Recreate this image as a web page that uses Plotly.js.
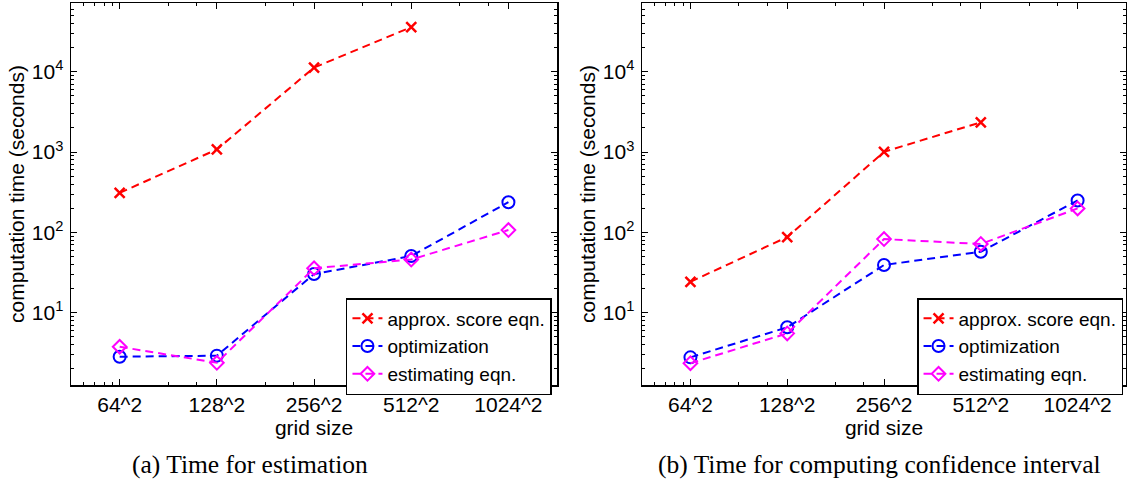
<!DOCTYPE html>
<html>
<head>
<meta charset="utf-8">
<script src="https://cdn.plot.ly/plotly-3.0.1.min.js"></script>
<style>
  html, body { margin: 0; padding: 0; background: #ffffff; }
  #chart { width: 1127px; height: 484px; }
</style>
</head>
<body>
<div id="chart"></div>
<script>
// ---------- data ----------
const gridPoints = [4096, 16384, 65536, 262144, 1048576];      // 64^2 ... 1024^2
const gridLabels = ['64^2', '128^2', '256^2', '512^2', '1024^2'];

// (a) Time for estimation
const estScore = [311, 1080, 11300, 36000];
const estOpt   = [2.83, 2.92, 30.3, 50.8, 238];
const estEq    = [3.77, 2.38, 35.8, 46.0, 107];

// (b) Time for computing confidence interval
const ciScore = [24.3, 87.5, 1010, 2350];
const ciOpt   = [2.78, 6.58, 39.3, 57.5, 250];
const ciEq    = [2.35, 5.53, 82.6, 71.8, 199];

const seriesNames = ['approx. score eqn.', 'optimization', 'estimating eqn.'];
const yTickVals = [10, 100, 1000, 10000];
const yTickText = ['10<sup>1</sup>', '10<sup>2</sup>', '10<sup>3</sup>', '10<sup>4</sup>'];
const captions = ['(a) Time for estimation', '(b) Time for computing confidence interval'];

// ---------- styling ----------
const FONT = 'Liberation Sans, Arial, Helvetica, sans-serif';
const FS = 21;
const styles = [
  {color: '#ff0000', symbol: 'x-thin-open', size: 10, mw: 2.5},
  {color: '#0000ff', symbol: 'circle-open', size: 12, mw: 2},
  {color: '#ff00ff', symbol: 'diamond-open', size: 10.5, mw: 2}
];

function mk(x, y, i, xa, ya, leg) {
  const s = styles[i];
  return {
    x: x, y: y, type: 'scatter', mode: 'lines+markers',
    name: seriesNames[i], xaxis: xa, yaxis: ya, legend: leg,
    line: {color: s.color, width: 2, dash: '8px,5px'},
    marker: {symbol: s.symbol, size: s.size, color: s.color, line: {color: s.color, width: s.mw}},
    cliponaxis: false
  };
}

const traces = [
  mk(gridPoints.slice(0, estScore.length), estScore, 0, 'x', 'y', 'legend'),
  mk(gridPoints, estOpt, 1, 'x', 'y', 'legend'),
  mk(gridPoints, estEq, 2, 'x', 'y', 'legend'),
  mk(gridPoints.slice(0, ciScore.length), ciScore, 0, 'x2', 'y2', 'legend2'),
  mk(gridPoints, ciOpt, 1, 'x2', 'y2', 'legend2'),
  mk(gridPoints, ciEq, 2, 'x2', 'y2', 'legend2')
];

// minor ticks
const xMinor = [];
[0.5, 0.6, 0.7, 0.8, 0.9].forEach(m => xMinor.push(gridPoints[0] * m));
gridPoints.forEach(v => { xMinor.push(2 * v); xMinor.push(3 * v); });
const yMinor = [];
for (let k = 0; k <= 4; k++) for (let m = 2; m <= 9; m++) yMinor.push(m * Math.pow(10, k));

const xRange = [Math.log10(gridPoints[0] / 2), Math.log10(gridPoints[gridPoints.length - 1] * 2)];
const yRange = [0.1, 4.857];

function xAxis(domain, anchor) {
  return {
    domain: domain, anchor: anchor, type: 'log', range: xRange,
    tickmode: 'array', tickvals: gridPoints, ticktext: gridLabels,
    ticks: 'inside', ticklen: 6, tickwidth: 1, tickcolor: '#000',
    showline: true, linecolor: '#000', linewidth: 1.5, mirror: 'allticks',
    showgrid: false, zeroline: false,
    minor: {tickmode: 'array', tickvals: xMinor, ticks: 'inside', ticklen: 3, tickcolor: '#000', tickwidth: 1, showgrid: false},
    tickfont: {family: FONT, size: FS, color: '#000'},
    ticklabelstandoff: 0,
    title: {text: 'grid size', font: {family: FONT, size: FS, color: '#000'}, standoff: 0}
  };
}
function yAxis(domainAnchor) {
  return {
    anchor: domainAnchor, type: 'log', range: yRange,
    tickmode: 'array', tickvals: yTickVals, ticktext: yTickText,
    ticks: 'inside', ticklen: 6, tickwidth: 1, tickcolor: '#000',
    showline: true, linecolor: '#000', linewidth: 1.5, mirror: 'allticks',
    showgrid: false, zeroline: false,
    minor: {tickmode: 'array', tickvals: yMinor, ticks: 'inside', ticklen: 3, tickcolor: '#000', tickwidth: 1, showgrid: false},
    tickfont: {family: FONT, size: FS, color: '#000'},
    ticklabelstandoff: 2,
    title: {text: 'computation time (seconds)', font: {family: FONT, size: FS, color: '#000'}, standoff: 1}
  };
}

const legendBase = {
  yanchor: 'top', xanchor: 'right', y: 0.2277,
  bgcolor: '#ffffff', bordercolor: '#000', borderwidth: 1.5,
  font: {family: FONT, size: 19, color: '#000'},
  itemwidth: 30, tracegroupgap: 0
};

const CAPFONT = {family: 'Liberation Serif, Times New Roman, serif', size: 25.5, color: '#000'};

const layout = {
  width: 1127, height: 484,
  margin: {l: 70, r: 1, t: 3, b: 99, pad: 0},
  paper_bgcolor: '#ffffff', plot_bgcolor: '#ffffff',
  showlegend: true,
  xaxis: xAxis([0.001, 0.4612], 'y'),
  yaxis: yAxis('x'),
  xaxis2: xAxis([0.5417, 1.0], 'y2'),
  yaxis2: yAxis('x2'),
  legend: Object.assign({}, legendBase, {x: 0.4564}),
  legend2: Object.assign({}, legendBase, {x: 0.9972}),
  annotations: [
    {text: captions[0], xref: 'paper', yref: 'paper', x: 0.1705, y: -0.2094, xanchor: 'center', yanchor: 'middle',
     showarrow: false, font: CAPFONT},
    {text: captions[1], xref: 'paper', yref: 'paper', x: 0.7670, y: -0.2094, xanchor: 'center', yanchor: 'middle',
     showarrow: false, font: CAPFONT}
  ]
};

Plotly.newPlot('chart', traces, layout, {displayModeBar: false, staticPlot: true});
</script>
</body>
</html>
